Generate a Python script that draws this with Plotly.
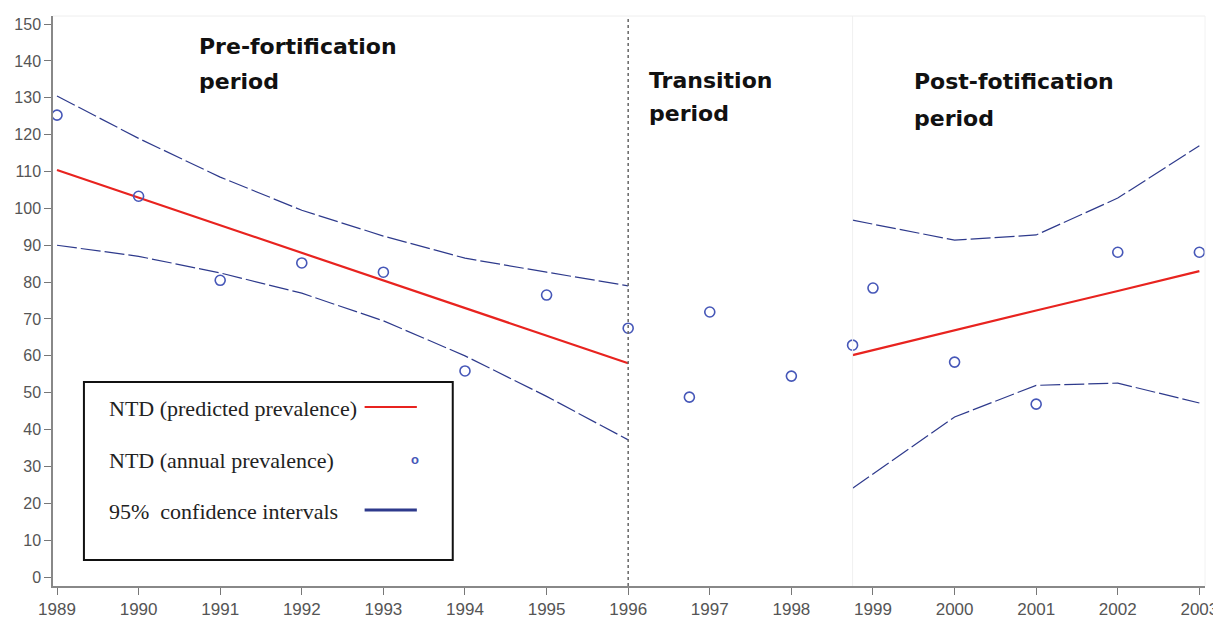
import plotly.graph_objects as go

# Annual observed prevalence (circles)
obs_year = [1989, 1990, 1991, 1992, 1993, 1994, 1995, 1996, 1996.75, 1997, 1998, 1998.75, 1999, 2000, 2001, 2002, 2003]
obs_val = [125.3, 103.3, 80.5, 85.2, 82.7, 55.9, 76.5, 67.5, 48.8, 71.9, 54.5, 62.9, 78.4, 58.3, 46.9, 88.1, 88.1]

# Pre-fortification fit and CI
pre_year = [1989, 1990, 1991, 1992, 1993, 1994, 1995, 1996]
pre_pred = [110.4, 102.9, 95.4, 87.9, 80.4, 72.9, 65.4, 58.0]
pre_upper = [130.5, 119.0, 108.5, 99.5, 92.5, 86.5, 82.7, 79.0]
pre_lower = [90.0, 87.0, 82.5, 77.0, 69.5, 60.0, 49.0, 37.2]

# Post-fortification fit and CI
post_year = [1998.75, 2000, 2001, 2002, 2003]
post_pred = [60.2, 67.0, 72.3, 77.6, 83.0]
post_upper = [96.8, 91.4, 92.8, 102.8, 117.0]
post_lower = [24.1, 43.4, 52.0, 52.6, 47.2]

x_ticks = list(range(1989, 2004))
y_ticks = list(range(0, 151, 10))

red = "#e8231f"
navy = "#2e3a8c"
blue = "#4657b8"

fig = go.Figure()
for ys in (pre_upper, pre_lower):
    fig.add_trace(go.Scatter(x=pre_year, y=ys, mode="lines",
                             line=dict(color=navy, width=1.2, dash="20px,4px")))
for ys in (post_upper, post_lower):
    fig.add_trace(go.Scatter(x=post_year, y=ys, mode="lines",
                             line=dict(color=navy, width=1.2, dash="20px,4px")))
fig.add_trace(go.Scatter(x=pre_year, y=pre_pred, mode="lines",
                         line=dict(color=red, width=2.2)))
fig.add_trace(go.Scatter(x=post_year, y=post_pred, mode="lines",
                         line=dict(color=red, width=2.2)))
fig.add_trace(go.Scatter(x=obs_year, y=obs_val, mode="markers",
                         marker=dict(symbol="circle-open", size=10, color=blue,
                                     line=dict(width=1.6, color=blue))))

# Period dividers
fig.add_shape(type="line", xref="x", yref="paper", x0=1996, x1=1996, y0=0, y1=1,
              line=dict(color="#666666", width=1.5, dash="dot"))
fig.add_shape(type="line", xref="x", yref="paper", x0=1998.75, x1=1998.75, y0=0, y1=1,
              line=dict(color="#f0f0f0", width=1))

# Period labels
lab_font = dict(family="DejaVu Sans", size=22, color="#111111")
period_labels = [
    ("Pre-fortification", 1990.72, 144.0), ("period", 1990.72, 134.5),
    ("Transition", 1996.23, 134.8), ("period", 1996.23, 125.8),
    ("Post-fotification", 1999.48, 134.3), ("period", 1999.48, 124.5),
]
for txt, xx, yy in period_labels:
    fig.add_annotation(x=xx, y=yy, xref="x", yref="y", text="<b>" + txt + "</b>",
                       showarrow=False, xanchor="left", yanchor="middle", font=lab_font)

# Manual legend box
fig.add_shape(type="rect", xref="x", yref="y", x0=1989.33, x1=1993.85, y0=4.6, y1=52.9,
              line=dict(color="#111111", width=2), fillcolor="white", layer="above")
leg_font = dict(family="Liberation Serif", size=22, color="#222222")
leg_items = [("NTD (predicted prevalence)", 45.8), ("NTD (annual prevalence)", 31.7), ("95%  confidence intervals", 17.9)]
for txt, yy in leg_items:
    fig.add_annotation(x=1989.61, y=yy, xref="x", yref="y", text=txt, showarrow=False,
                       xanchor="left", yanchor="middle", font=leg_font)
fig.add_shape(type="line", xref="x", yref="y", x0=1992.77, x1=1993.41, y0=46.1, y1=46.1,
              line=dict(color=red, width=2), layer="above")
fig.add_shape(type="line", xref="x", yref="y", x0=1992.77, x1=1993.41, y0=18.2, y1=18.2,
              line=dict(color=navy, width=3), layer="above")
fig.add_annotation(x=1993.39, y=32.0, xref="x", yref="y", text="<b>o</b>", showarrow=False,
                   font=dict(family="Liberation Sans", size=13, color=blue))

# The page body adds an 8px margin, so the figure is sized/positioned to compensate.
fig.update_layout(
    width=1213, height=610,
    margin=dict(l=45, r=16, t=8, b=32),
    paper_bgcolor="white", plot_bgcolor="white",
    showlegend=False,
    xaxis=dict(range=[1988.951, 2003.069], tickvals=x_ticks, ticktext=[str(v) for v in x_ticks],
               showgrid=False, zeroline=False, showline=True, linecolor="#888888", linewidth=1.5,
               ticks="outside", ticklen=7, tickcolor="#777777",
               tickfont=dict(family="Liberation Sans", size=17, color="#555555"),
               automargin=False),
    yaxis=dict(range=[-2.44, 152.2], tickvals=y_ticks, ticktext=[str(v) for v in y_ticks],
               showgrid=False, zeroline=False, showline=True, linecolor="#888888", linewidth=1.5,
               ticks="outside", ticklen=7, tickcolor="#777777",
               tickfont=dict(family="Liberation Sans", size=16, color="#555555"),
               automargin=False),
)
fig.add_shape(type="line", xref="paper", yref="paper", x0=0, x1=1, y0=1, y1=1,
              line=dict(color="#eeeeee", width=1))
fig.add_shape(type="line", xref="paper", yref="paper", x0=1, x1=1, y0=0, y1=1,
              line=dict(color="#f2f2f2", width=1))

fig.write_html("out.html")
